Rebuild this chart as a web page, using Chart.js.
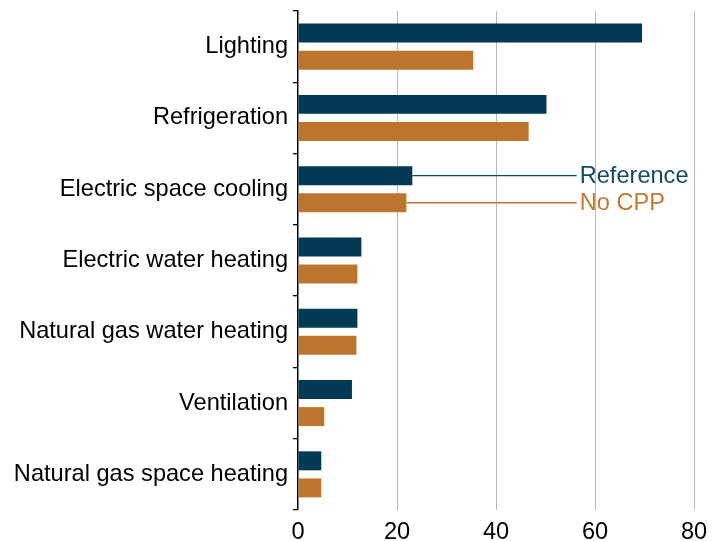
<!DOCTYPE html>
<html>
<head>
<meta charset="utf-8">
<title>Energy use by end use</title>
<script src="https://cdn.jsdelivr.net/npm/chart.js@4.4.1/dist/chart.umd.min.js"></script>
<style>
  html, body { margin: 0; padding: 0; background: #fff; }
  #chart { display: block; }
</style>
</head>
<body>
<canvas id="chart" width="722" height="541"></canvas>
<script>
  var categories = [
    "Lighting",
    "Refrigeration",
    "Electric space cooling",
    "Electric water heating",
    "Natural gas water heating",
    "Ventilation",
    "Natural gas space heating"
  ];
  var referenceValues = [69.5, 50.2, 23.1, 12.8, 12.0, 10.9, 4.7];
  var noCppValues = [35.4, 46.6, 21.9, 12.0, 11.8, 5.3, 4.7];
  var xTicks = [0, 20, 40, 60, 80];

  var colors = {
    reference: "#023A55",
    referenceText: "#0F4B66",
    noCpp: "#BD742C",
    noCppText: "#C27A32",
    grid: "#B8B8B8",
    axis: "#000000"
  };

  var FONT = "'Liberation Sans', Arial, sans-serif";
  var FONT_SIZE = 23.6;

  // series labels drawn next to the space cooling pair, joined to the bar ends
  var calloutPlugin = {
    id: "callouts",
    afterDatasetsDraw: function (chart) {
      var ctx = chart.ctx;
      var idx = 2;
      var lineEnd = chart.scales.x.getPixelForValue(56.3);
      var items = [
        { ds: 0, text: "Reference", line: colors.referenceText, color: colors.referenceText },
        { ds: 1, text: "No CPP", line: colors.noCpp, color: colors.noCppText }
      ];
      ctx.save();
      ctx.font = FONT_SIZE + "px " + FONT;
      ctx.textAlign = "left";
      ctx.textBaseline = "middle";
      items.forEach(function (it) {
        var bar = chart.getDatasetMeta(it.ds).data[idx];
        ctx.strokeStyle = it.line;
        ctx.lineWidth = 1.3;
        ctx.beginPath();
        ctx.moveTo(bar.x, bar.y);
        ctx.lineTo(lineEnd, bar.y);
        ctx.stroke();
        ctx.fillStyle = it.color;
        ctx.fillText(it.text, lineEnd + 3, bar.y + 1);
      });
      ctx.restore();
    }
  };

  new Chart(document.getElementById("chart"), {
    type: "bar",
    data: {
      labels: categories,
      datasets: [
        {
          label: "Reference",
          data: referenceValues,
          backgroundColor: colors.reference,
          categoryPercentage: 0.76,
          barPercentage: 0.7
        },
        {
          label: "No CPP",
          data: noCppValues,
          backgroundColor: colors.noCpp,
          categoryPercentage: 0.76,
          barPercentage: 0.7
        }
      ]
    },
    options: {
      indexAxis: "y",
      responsive: false,
      animation: false,
      layout: { padding: { top: 11, right: 28, left: 0, bottom: 0 } },
      plugins: {
        legend: { display: false },
        tooltip: { enabled: false }
      },
      scales: {
        x: {
          min: 0,
          max: 80,
          afterBuildTicks: function (scale) {
            scale.ticks = xTicks.map(function (v) { return { value: v }; });
          },
          afterFit: function (scale) { scale.height = 31; },
          border: { display: false },
          grid: {
            drawTicks: false,
            lineWidth: 1,
            color: function (c) {
              return c.tick && c.tick.value === 0 ? "rgba(0,0,0,0)" : colors.grid;
            }
          },
          ticks: {
            padding: 8,
            color: "#000",
            font: { family: FONT, size: FONT_SIZE }
          }
        },
        y: {
          afterFit: function (scale) {
            scale.width = 298;
            // labels sit mid-category, so no extra room is needed at the ends
            scale.paddingTop = 0;
            scale.paddingBottom = 0;
          },
          border: { display: true, color: colors.axis, width: 1.5 },
          grid: {
            drawOnChartArea: false,
            color: colors.axis,
            lineWidth: 1.3,
            tickLength: 5
          },
          ticks: {
            padding: 5,
            color: "#000",
            font: { family: FONT, size: FONT_SIZE }
          }
        }
      }
    },
    plugins: [calloutPlugin]
  });
</script>
</body>
</html>
